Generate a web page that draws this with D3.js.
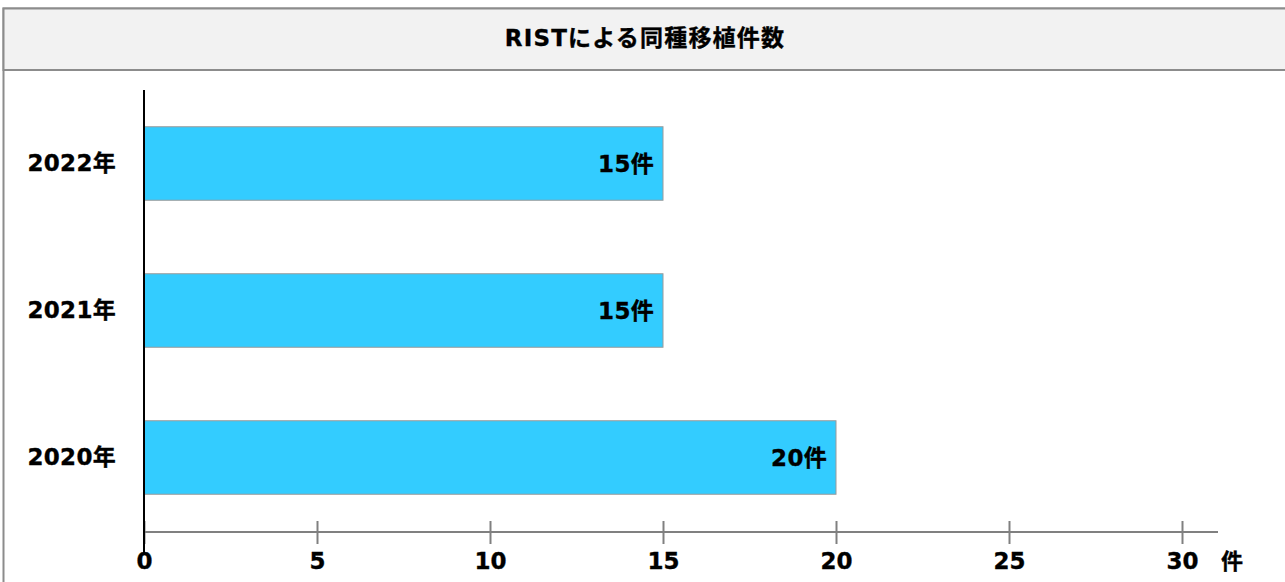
<!DOCTYPE html>
<html>
<head>
<meta charset="utf-8">
<script src="https://cdn.jsdelivr.net/npm/d3@7"></script>
<style>
  html, body { margin: 0; padding: 0; background: #fff; }
  svg { display: block; font-family: "DejaVu Sans", "Noto Sans CJK JP", sans-serif; }
  .lbl { font-weight: bold; fill: #000; stroke: #000; stroke-width: 0.35px; }
</style>
</head>
<body>
<svg id="chart" width="1285" height="582"></svg>
<script>
// Chart data
const title = "RISTによる同種移植件数";
const years = ["2022年", "2021年", "2020年"];
const counts = [15, 15, 20];
const tickValues = [0, 5, 10, 15, 20, 25, 30];
const unitLabel = "件";

const svg = d3.select("#chart");
const labelFont = "DejaVu Sans, Noto Sans CJK JP, sans-serif";

// Outer frame and title band
svg.append("rect")
  .attr("x", 3.5).attr("y", 8.5)
  .attr("width", 1290).attr("height", 600)
  .attr("fill", "#fff").attr("stroke", "#8c8c8c").attr("stroke-width", 2);
svg.append("rect")
  .attr("x", 3.5).attr("y", 8.5)
  .attr("width", 1290).attr("height", 61.5)
  .attr("fill", "#f2f2f2").attr("stroke", "#8c8c8c").attr("stroke-width", 2);
svg.append("text")
  .attr("class", "lbl")
  .attr("x", 645).attr("y", 38)
  .attr("text-anchor", "middle").attr("dominant-baseline", "central")
  .attr("font-size", 23)
  .attr("letter-spacing", 1.2)
  .text(title);

// Scales
const x = d3.scaleLinear().domain([0, 30]).range([144, 1182]);
const y = d3.scaleBand().domain(years).range([90, 531]).paddingInner(0.5).paddingOuter(0.25);

const rows = years.map((yr, i) => ({ yr, v: counts[i] }));

// Bars
svg.append("g").selectAll("rect")
  .data(rows)
  .join("rect")
  .attr("x", x(0))
  .attr("y", d => y(d.yr))
  .attr("width", d => x(d.v) - x(0))
  .attr("height", y.bandwidth())
  .attr("fill", "#33ccff")
  .attr("stroke", "#9a9a9a").attr("stroke-width", 1);

// Value labels inside bar ends
svg.append("g").selectAll("text")
  .data(rows)
  .join("text")
  .attr("class", "lbl")
  .attr("x", d => x(d.v) - 9)
  .attr("y", d => y(d.yr) + y.bandwidth() / 2)
  .attr("text-anchor", "end").attr("dominant-baseline", "central")
  .attr("font-size", 23)
  .attr("letter-spacing", 0.3)
  .text(d => d.v + unitLabel);

// X axis
const xAxis = svg.append("g")
  .attr("transform", "translate(0,532)")
  .call(d3.axisBottom(x).tickValues(tickValues).tickSizeInner(12).tickSizeOuter(0));
xAxis.select(".domain").remove();
xAxis.append("line")
  .attr("x1", x(0)).attr("x2", 1218).attr("y1", 0).attr("y2", 0)
  .attr("stroke", "#808080").attr("stroke-width", 2);
xAxis.selectAll(".tick line")
  .attr("y1", -11).attr("y2", 12)
  .attr("stroke", "#808080").attr("stroke-width", 2);
xAxis.selectAll(".tick text")
  .attr("class", "lbl")
  .attr("y", 29).attr("dy", null)
  .attr("dominant-baseline", "central")
  .attr("font-size", 23)
  .attr("font-family", labelFont);
svg.append("text")
  .attr("class", "lbl")
  .attr("x", 1232).attr("y", 561)
  .attr("text-anchor", "middle").attr("dominant-baseline", "central")
  .attr("font-size", 22)
  .text(unitLabel);

// Y axis
svg.append("line")
  .attr("x1", x(0)).attr("x2", x(0)).attr("y1", 90).attr("y2", 553)
  .attr("stroke", "#000").attr("stroke-width", 2);
svg.append("g").selectAll("text")
  .data(years)
  .join("text")
  .attr("class", "lbl")
  .attr("x", 116)
  .attr("y", d => y(d) + y.bandwidth() / 2 - 1)
  .attr("text-anchor", "end").attr("dominant-baseline", "central")
  .attr("font-size", 23)
  .attr("letter-spacing", 0.3)
  .text(d => d);
</script>
</body>
</html>
